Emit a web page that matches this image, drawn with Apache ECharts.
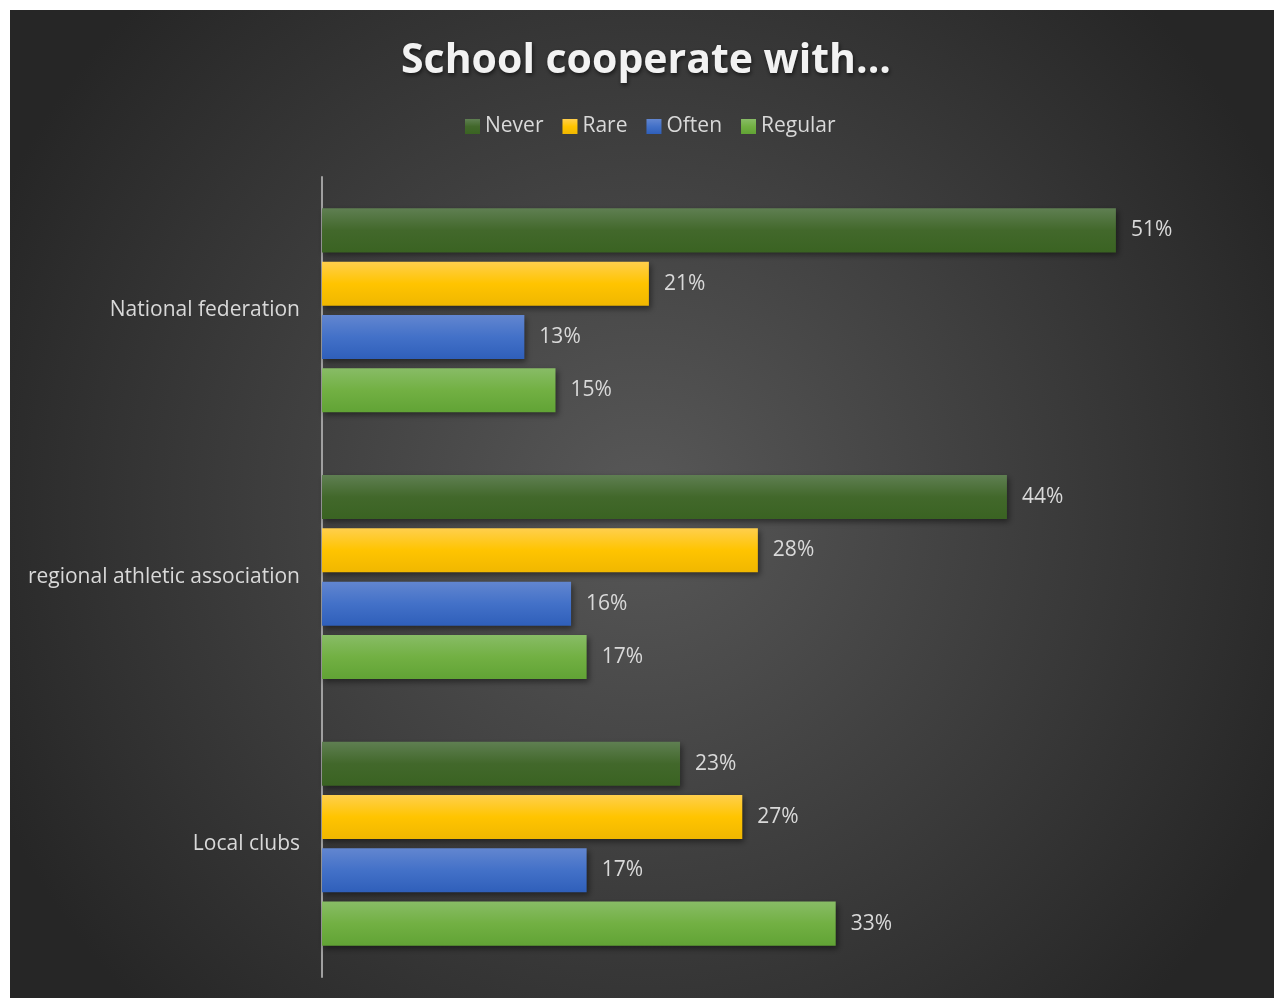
<!DOCTYPE html>
<html>
<head>
<meta charset="utf-8">
<script src="https://cdn.jsdelivr.net/npm/echarts@6/dist/echarts.min.js"></script>
<style>
  html, body { margin: 0; padding: 0; background: #ffffff; }
  #chart { position: absolute; left: 10px; top: 10px; width: 1264px; height: 988px; }
</style>
</head>
<body>
<div id="chart"></div>
<script>
// Survey: who schools cooperate with, share of answers per frequency (%)
const categories = ['National federation', 'regional athletic association', 'Local clubs'];
const seriesNames = ['Never', 'Rare', 'Often', 'Regular'];
const neverValues = [51, 44, 23];
const rareValues = [21, 28, 27];
const oftenValues = [13, 16, 17];
const regularValues = [15, 17, 33];

const FONT = '"Open Sans", "Liberation Sans", sans-serif';
const TEXT = '#d9d9d9';

function vgrad(top, mid, bottom) {
  return {
    type: 'linear', x: 0, y: 0, x2: 0, y2: 1,
    colorStops: [
      { offset: 0, color: top },
      { offset: 0.5, color: mid },
      { offset: 1, color: bottom }
    ]
  };
}

const fills = [
  vgrad('#5f7f52', '#42682b', '#3a6322'),
  vgrad('#ffcf4d', '#ffc400', '#f0b700'),
  vgrad('#6286d0', '#4371c8', '#2f5fba'),
  vgrad('#88bc66', '#72b043', '#61a335')
];

const valueSets = [neverValues, rareValues, oftenValues, regularValues];

const series = seriesNames.map((name, i) => ({
  name: name,
  type: 'bar',
  data: valueSets[i],
  barGap: '21%',
  barCategoryGap: '23.5%',
  itemStyle: {
    color: fills[i],
    shadowColor: 'rgba(0,0,0,0.45)',
    shadowBlur: 6,
    shadowOffsetX: 2,
    shadowOffsetY: 3
  },
  label: {
    show: true,
    position: 'right',
    distance: 15,
    formatter: '{c}%',
    color: TEXT,
    fontSize: 21,
    fontFamily: FONT
  }
}));

const chart = echarts.init(document.getElementById('chart'));
chart.setOption({
  backgroundColor: {
    type: 'radial', x: 0.5, y: 0.5, r: 0.72,
    colorStops: [
      { offset: 0, color: '#585858' },
      { offset: 1, color: '#262626' }
    ]
  },
  animation: false,
  title: {
    text: 'School cooperate with...',
    left: 386,
    top: 26,
    textStyle: {
      color: '#f2f2f2',
      fontSize: 41,
      fontWeight: 'bold',
      fontFamily: FONT,
      textShadowColor: 'rgba(0,0,0,0.6)',
      textShadowBlur: 4,
      textShadowOffsetX: 1,
      textShadowOffsetY: 2
    }
  },
  legend: {
    data: seriesNames,
    top: 101,
    left: 450,
    icon: 'rect',
    itemWidth: 15,
    itemHeight: 15,
    itemGap: 19,
    textStyle: { color: TEXT, fontSize: 21, fontFamily: FONT }
  },
  grid: { left: 312, right: 18, top: 167, bottom: 21, containLabel: false },
  xAxis: {
    type: 'value',
    min: 0,
    max: 60,
    show: false
  },
  yAxis: {
    type: 'category',
    data: categories,
    inverse: true,
    axisLine: { show: true, lineStyle: { color: '#a0a0a0', width: 2 } },
    axisTick: { show: false },
    axisLabel: { color: TEXT, fontSize: 21, fontFamily: FONT, margin: 22 },
    splitLine: { show: false }
  },
  series: series
});
</script>
</body>
</html>
